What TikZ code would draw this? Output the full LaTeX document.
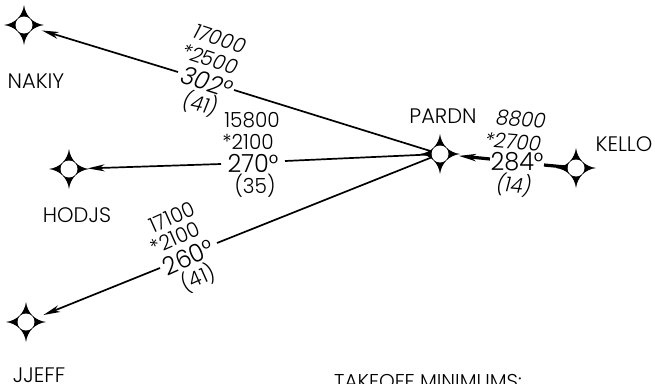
\documentclass[tikz,border=0pt]{standalone}
\usepackage{graphicx}
\usepackage{fontspec}
\setmainfont{Poppins Light}[ItalicFont={Poppins Light Italic}]
\usetikzlibrary{arrows.meta}
\newcommand{\tallnum}[1]{\scalebox{1}[1.04]{#1}}
\tikzset{
  x=1pt,y=-1pt,
  wpt/.style={circle,fill=white,minimum size=17pt,inner sep=0pt},
  route/.style={line width=1.7pt,draw=black},
  head/.style={-{Stealth[length=17pt,width=7pt,inset=5pt]},shorten >=10pt},
  place/.style={font=\fontsize{21}{21}\selectfont,inner sep=0pt},
  alt/.style={font=\fontsize{20}{20}\selectfont,inner sep=0pt},
  crs/.style={font=\fontsize{24}{24}\selectfont,inner sep=0pt},
}
\begin{document}
\begin{tikzpicture}
\useasboundingbox (0,0) rectangle (655,383);
\clip (0,0) rectangle (655,383);
% waypoints
\coordinate (pa) at (24,25); \coordinate (pb) at (69,169); \coordinate (pc) at (26,322);
\coordinate (pd) at (440,154); \coordinate (pe) at (576,168);
\foreach \p in {pa,pb,pc,pd,pe}{
  \begin{scope}[shift={(\p)}]
  \fill[black] (20,0) .. controls (9,1.5) and (1.5,9) .. (0,20)
     .. controls (-1.5,9) and (-9,1.5) .. (-20,0)
     .. controls (-9,-1.5) and (-1.5,-9) .. (0,-20)
     .. controls (1.5,-9) and (9,-1.5) .. (20,0) -- cycle;
  \end{scope}}
\node[wpt] (NAKIY) at (pa) {};
\node[wpt] (HODJS) at (pb) {};
\node[wpt] (JJEFF) at (pc) {};
\node[wpt] (PARDN) at (pd) {};
\node[wpt] (KELLO) at (pe) {};
% names
\node[place] (lna) at (36,81) {NAKIY};
\node[place] (lho) at (77,215) {HODJS};
\node[place] (ljj) at (39,375) {JJEFF};
\node[place] (lpa) at (443,116) {PARDN};
\node[place] (lke) at (624,144) {KELLO};
\node[place,font=\fontsize{20}{20}\selectfont] (lto) at (428,381) {TAKEOFF MINIMUMS:};
% gap coordinates
\coordinate (g1a) at (234,90); \coordinate (g1b) at (178,72);
\coordinate (g2a) at (285,161); \coordinate (g2b) at (221,164);
\coordinate (g3a) at (217,243); \coordinate (g3b) at (160,268);
\coordinate (g4a) at (544,165); \coordinate (g4b) at (490,159);
% connectors
\draw[route] (PARDN) -- (g1a);
\draw[route,head] (g1b) -- (NAKIY);
\draw[route] (PARDN) -- (g2a);
\draw[route,head] (g2b) -- (HODJS);
\draw[route] (PARDN) -- (g3a);
\draw[route,head] (g3b) -- (JJEFF);
\draw[line width=3.2pt] (KELLO) -- (g4a);
\draw[line width=3.2pt,head] (g4b) -- (PARDN);
% labels 1
\node[alt,rotate=-18] (t1a) at (220,39) {\tallnum{\itshape 17000}};
\node[alt,rotate=-18] (t1b) at (210,59) {\tallnum{\itshape *2500}};
\node[crs,rotate=-18] (t1c) at (207,82) {\tallnum{\itshape 302°}};
\node[alt,rotate=-12] (t1d) at (200,104) {\tallnum{\itshape (41)}};
% labels 2
\node[alt] (t2a) at (252,120) {\tallnum{15800}};
\node[alt] (t2b) at (248,142) {\tallnum{*2100}};
\node[crs] (t2c) at (253,163) {\tallnum{270°}};
\node[alt] (t2d) at (255,186) {\tallnum{(35)}};
% labels 3
\node[alt,rotate=24] (t3a) at (172,217) {\tallnum{17100}};
\node[alt,rotate=24] (t3b) at (175,238) {\tallnum{*2100}};
\node[crs,rotate=24] (t3c) at (188,257) {\tallnum{260°}};
\node[alt,rotate=24] (t3d) at (198,278) {\tallnum{(41)}};
% labels 4
\node[alt,rotate=-5] (t4a) at (521,119) {\tallnum{\itshape 8800}};
\node[alt,rotate=-5] (t4b) at (513,142) {\tallnum{\itshape *2700}};
\node[crs] (t4c) at (517,162) {\tallnum{284°}};
\node[alt,rotate=-5] (t4d) at (514,185) {\tallnum{\itshape (14)}};
\end{tikzpicture}
\end{document}
